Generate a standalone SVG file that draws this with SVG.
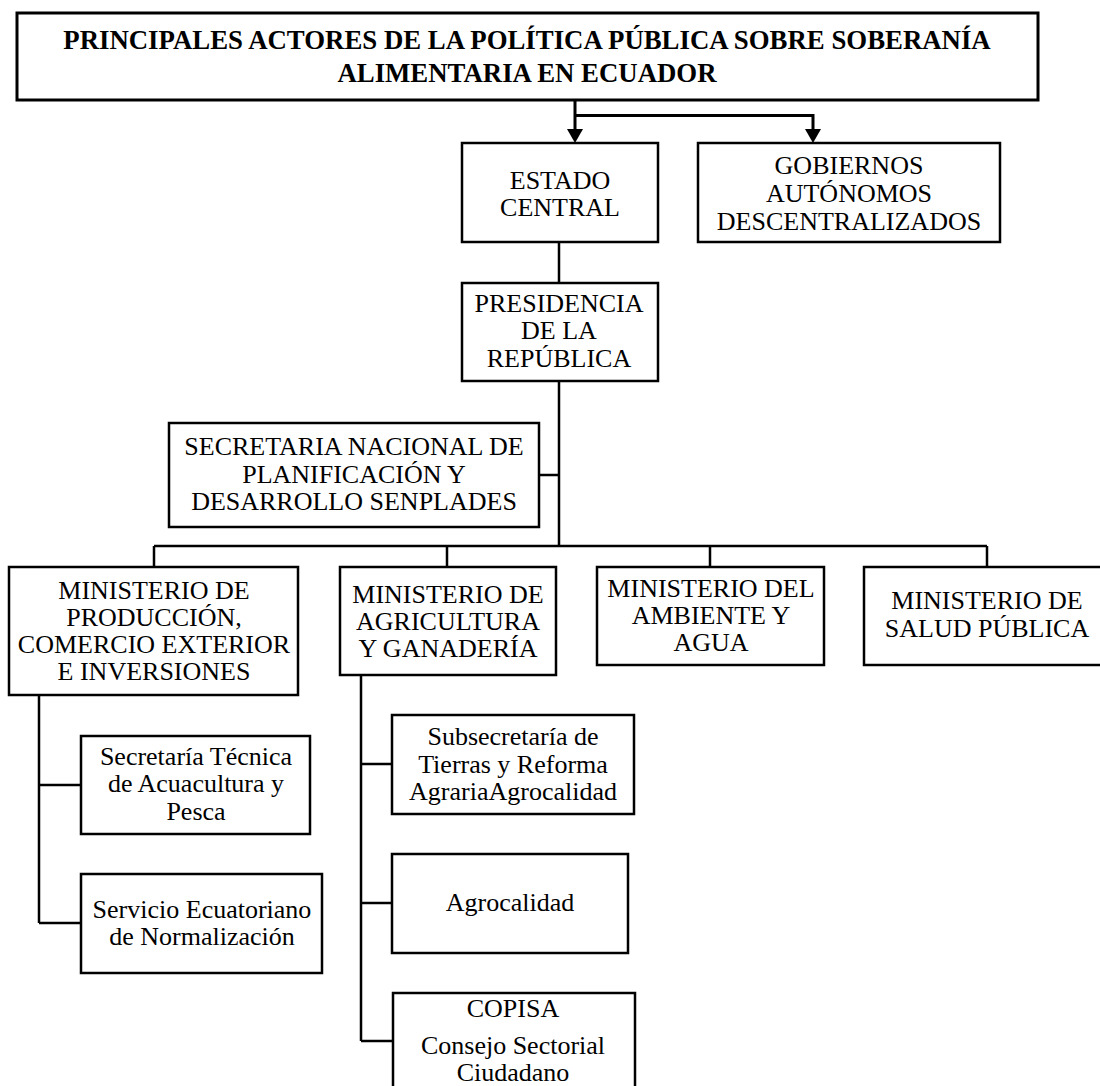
<svg xmlns="http://www.w3.org/2000/svg" width="1100" height="1086" viewBox="0 0 1100 1086">
<style>
.box{fill:#fff;stroke:#000;stroke-width:2.5}
.t{font-family:"Liberation Serif","Times New Roman",serif;font-size:26px;fill:#000;text-anchor:middle}
.tb{font-family:"Liberation Serif","Times New Roman",serif;font-size:26.8px;font-weight:bold;fill:#000;text-anchor:middle}
.ln{fill:none;stroke:#000;stroke-width:2.5}
.ln3{fill:none;stroke:#000;stroke-width:3}
</style>
<rect width="1100" height="1086" fill="#fff"/>
<g id="connectors">
<path class="ln3" d="M575,100 V130 M575,115.5 H813 V130"/>
<polygon points="567,129 583,129 575,143" fill="#000"/>
<polygon points="805,129 821,129 813,143" fill="#000"/>
<path class="ln" d="M559,243 V283 M559,381 V546 M539,475 H559 M154,546 H987 M154,546 V567 M447,546 V567 M710,546 V567 M987,546 V567"/>
<path class="ln" d="M39,695 V923 M39,785 H81 M39,923 H81"/>
<path class="ln" d="M361,675 V1041 M361,764 H392 M361,903 H392 M361,1041 H392"/>
</g>
<g id="title">
<rect class="box" x="17" y="13" width="1021" height="87" style="stroke-width:3"/>
<text class="tb" x="527" y="49">PRINCIPALES ACTORES DE LA POLÍTICA PÚBLICA SOBRE SOBERANÍA</text>
<text class="tb" x="527" y="82">ALIMENTARIA EN ECUADOR</text>
</g>
<g id="estado">
<rect class="box" x="462" y="143" width="196" height="99"/>
<text class="t" x="560" y="189">ESTADO</text>
<text class="t" x="560" y="216">CENTRAL</text>
</g>
<g id="gobiernos">
<rect class="box" x="698" y="143" width="302" height="99"/>
<text class="t" x="849" y="174">GOBIERNOS</text>
<text class="t" x="849" y="202">AUTÓNOMOS</text>
<text class="t" x="849" y="230">DESCENTRALIZADOS</text>
</g>
<g id="presidencia">
<rect class="box" x="462" y="283" width="196" height="98"/>
<text class="t" x="559" y="312">PRESIDENCIA</text>
<text class="t" x="559" y="339">DE LA</text>
<text class="t" x="559" y="367">REPÚBLICA</text>
</g>
<g id="senplades">
<rect class="box" x="169" y="423" width="370" height="104"/>
<text class="t" x="354" y="455">SECRETARIA NACIONAL DE</text>
<text class="t" x="354" y="483">PLANIFICACIÓN Y</text>
<text class="t" x="354" y="510">DESARROLLO SENPLADES</text>
</g>
<g id="min-produccion">
<rect class="box" x="9" y="567" width="289" height="128"/>
<text class="t" x="154" y="599">MINISTERIO DE</text>
<text class="t" x="154" y="626">PRODUCCIÓN,</text>
<text class="t" x="154" y="653">COMERCIO EXTERIOR</text>
<text class="t" x="154" y="680">E INVERSIONES</text>
</g>
<g id="min-agricultura">
<rect class="box" x="340" y="567" width="216" height="108"/>
<text class="t" x="448" y="603">MINISTERIO DE</text>
<text class="t" x="448" y="630">AGRICULTURA</text>
<text class="t" x="448" y="657">Y GANADERÍA</text>
</g>
<g id="min-ambiente">
<rect class="box" x="597" y="567" width="227" height="98"/>
<text class="t" x="711" y="597">MINISTERIO DEL</text>
<text class="t" x="711" y="624">AMBIENTE Y</text>
<text class="t" x="711" y="651">AGUA</text>
</g>
<g id="min-salud">
<rect class="box" x="864" y="567" width="250" height="98"/>
<text class="t" x="987" y="609">MINISTERIO DE</text>
<text class="t" x="987" y="637">SALUD PÚBLICA</text>
</g>
<g id="acuacultura">
<rect class="box" x="81" y="736" width="229" height="98"/>
<text class="t" x="196" y="765">Secretaría Técnica</text>
<text class="t" x="196" y="792">de Acuacultura y</text>
<text class="t" x="196" y="820">Pesca</text>
</g>
<g id="normalizacion">
<rect class="box" x="81" y="874" width="241" height="99"/>
<text class="t" x="202" y="918">Servicio Ecuatoriano</text>
<text class="t" x="202" y="945">de Normalización</text>
</g>
<g id="subsecretaria">
<rect class="box" x="392" y="715" width="242" height="99"/>
<text class="t" x="513" y="745">Subsecretaría de</text>
<text class="t" x="513" y="773">Tierras y Reforma</text>
<text class="t" x="513" y="800">AgrariaAgrocalidad</text>
</g>
<g id="agrocalidad">
<rect class="box" x="392" y="854" width="236" height="99"/>
<text class="t" x="510" y="911">Agrocalidad</text>
</g>
<g id="copisa">
<rect class="box" x="393" y="993" width="242" height="110"/>
<text class="t" x="513" y="1017">COPISA</text>
<text class="t" x="513" y="1054">Consejo Sectorial</text>
<text class="t" x="513" y="1081">Ciudadano</text>
</g>
</svg>
